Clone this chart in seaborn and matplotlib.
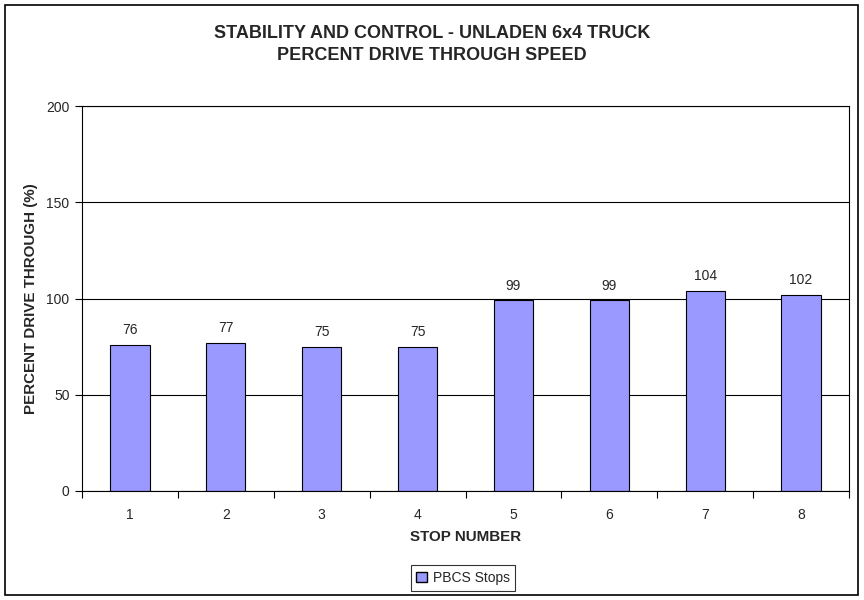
import matplotlib
matplotlib.use("Agg")
import matplotlib.pyplot as plt
import seaborn as sns
import pandas as pd
from matplotlib.patches import Rectangle, Patch

# data
stops = ["1", "2", "3", "4", "5", "6", "7", "8"]
pct_drive = [76, 77, 75, 75, 99, 99, 104, 102]
series_name = "PBCS Stops"

df = pd.DataFrame({"stop": stops, "pct": pct_drive})

sns.set_style("white")
plt.rcParams["font.family"] = ["Liberation Sans", "DejaVu Sans"]

fig = plt.figure(figsize=(8.64, 6.0), dpi=100)
ax = fig.add_axes([82 / 864, 109 / 600, (849 - 82) / 864, (491 - 106) / 600])

sns.barplot(data=df, x="stop", y="pct", color="#9999FF", saturation=1,
            width=0.41, edgecolor="black", linewidth=0.8, ax=ax)

for i, v in enumerate(pct_drive):
    ax.text(i, v + 4, str(v), ha="center", va="bottom", fontsize=10)

ax.set_ylim(0, 200)
ax.set_yticks([0, 50, 100, 150, 200])
ax.set_xlim(-0.5, len(stops) - 0.5)
ax.yaxis.grid(True, color="black", linewidth=0.8)
ax.set_axisbelow(True)
for s in ax.spines.values():
    s.set_visible(True)
    s.set_color("black")
    s.set_linewidth(0.8)

# excel-style ticks between categories
ax.set_xticks([i - 0.5 for i in range(len(stops) + 1)], minor=False)
ax.set_xticklabels([])
ax.set_xticks(range(len(stops)), minor=True)
ax.set_xticklabels(stops, minor=True, fontsize=10)
ax.tick_params(axis="x", which="major", direction="out", length=5, width=0.8, color="black", bottom=True)
ax.tick_params(axis="x", which="minor", length=0, pad=12)
ax.tick_params(axis="y", direction="out", length=5, width=0.8, color="black", left=True, labelsize=10, pad=4)

ax.set_xlabel("STOP NUMBER", fontsize=10.9, fontweight="bold", labelpad=6)
ax.set_ylabel("PERCENT DRIVE THROUGH (%)", fontsize=10.9, fontweight="bold")
ax.yaxis.set_label_coords(-(82 - 38) / 767, 0.5)

fig.text(432 / 864, 1 - 33 / 600, "STABILITY AND CONTROL - UNLADEN 6x4 TRUCK",
         ha="center", va="center", fontsize=13, fontweight="bold")
fig.text(432 / 864, 1 - 56 / 600, "PERCENT DRIVE THROUGH SPEED",
         ha="center", va="center", fontsize=13, fontweight="bold")

leg = fig.legend(handles=[Patch(facecolor="#9999FF", edgecolor="black", label=series_name)],
                 loc="center", bbox_to_anchor=(463 / 864, 1 - 578 / 600), frameon=True,
                 fancybox=False, fontsize=10, handlelength=0.8, handleheight=0.8,
                 handletextpad=0.4, borderpad=0.4)
leg.get_frame().set_edgecolor("black")
leg.get_frame().set_linewidth(0.8)

fig.patches.append(Rectangle((5 / 864, 5 / 600), 853 / 864, 590 / 600, transform=fig.transFigure,
                             fill=False, edgecolor="black", linewidth=1.2))

fig.savefig("out.png", dpi=100)
